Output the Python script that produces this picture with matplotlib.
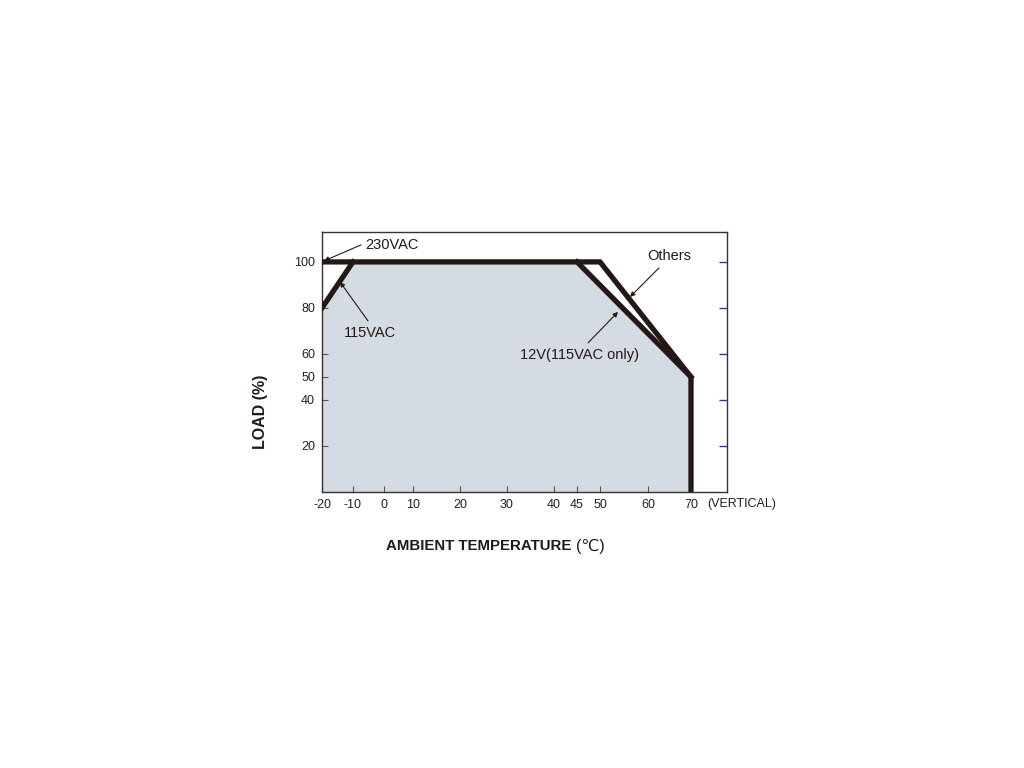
import numpy as np
import matplotlib
matplotlib.use("Agg")
import matplotlib.pyplot as plt

plt.rcParams['font.family'] = ['Liberation Sans', 'DejaVu Sans']

# derating curves (temperature in C, load in %)
others_t = [-20, 50, 70, 70]
others_load = [100, 100, 50, 0]
vac115_t = [-20, -10]
vac115_load = [80, 100]
v12_t = [45, 70]
v12_load = [100, 50]
# shaded area (lowest curve)
fill_t = [-20, -10, 45, 70, 70]
fill_load = [80, 100, 100, 50, 0]

xticks = [-20, -10, 0, 10, 20, 30, 40, 45, 50, 60, 70]
yticks = [20, 40, 50, 60, 80, 100]
right_ticks = [20, 40, 60, 80, 100]

# the x axis of the original is not uniformly spaced
knot_t = np.array([-20, -10, 0, 10, 20, 30, 40, 50, 60, 70, 80])
knot_p = np.array([322, 353, 384, 413, 460, 507, 554, 600, 648, 691, 734], dtype=float)

def fwd(x):
    return np.interp(x, knot_t, knot_p)

def inv(p):
    return np.interp(p, knot_p, knot_t)

def px(x, y):
    # pixel position of the original picture -> data coords
    return (float(inv(x)), (492 - y) / 2.3)

ink = '#231815'

fig = plt.figure(figsize=(10.24, 7.68), dpi=100)
ax = fig.add_axes([322/1024, 1-492/768, (727-322)/1024, (492-232)/768])
ax.set_xscale('function', functions=(fwd, inv))
ax.set_xlim(-20, inv(727))
ax.set_ylim(0, 113)

ax.fill_between(fill_t, fill_load, 0, color='#d5dbe3', lw=0, zorder=1)
ax.plot(others_t, others_load, color=ink, lw=3.8, solid_joinstyle='miter', zorder=3)
ax.plot(vac115_t, vac115_load, color=ink, lw=3.8, zorder=3)
ax.plot(v12_t, v12_load, color=ink, lw=3.8, zorder=3)

for s in ax.spines.values():
    s.set_color('#333333')
    s.set_linewidth(1.0)

ax.set_xticks(xticks)
ax.set_xticklabels([str(t) for t in xticks], fontsize=9, color='#222222')
ax.set_yticks(yticks)
ax.set_yticklabels([str(t) for t in yticks], fontsize=9, color='#222222')
ax.tick_params(direction='in', length=4, width=0.8, color='#555555', pad=5)
ax.minorticks_off()

ax2 = ax.twinx()
ax2.set_ylim(ax.get_ylim())
ax2.set_yticks(right_ticks)
ax2.set_yticklabels([])
ax2.tick_params(direction='in', length=6, width=1.0, color='#3333aa')
for s in ax2.spines.values():
    s.set_visible(False)

arrow = dict(arrowstyle='-|>', color=ink, lw=0.8, mutation_scale=7, shrinkA=0, shrinkB=0)

ax.text(*px(365, 245), '230VAC', fontsize=10.5, ha='left', va='center', color=ink)
ax.annotate('', xy=px(324, 261), xytext=px(361, 245), arrowprops=arrow)
ax.text(*px(370, 333), '115VAC', fontsize=10.5, ha='center', va='center', color=ink)
ax.annotate('', xy=px(340, 282), xytext=px(368, 321), arrowprops=arrow)
ax.text(*px(669, 256), 'Others', fontsize=10.5, ha='center', va='center', color=ink)
ax.annotate('', xy=px(630, 297), xytext=px(659, 268), arrowprops=arrow)
ax.text(*px(580, 355), '12V(115VAC only)', fontsize=10.5, ha='center', va='center', color=ink)
ax.annotate('', xy=px(618, 312), xytext=px(588, 343), arrowprops=arrow)

ax.text(inv(707), -5, '(VERTICAL)', fontsize=9, color='#222222', ha='left', va='center')

fig.text(261/1024, 1-412/768, 'LOAD (%)', rotation=90, fontsize=11.5, fontweight='bold',
         ha='center', va='center', color=ink)
fig.text(571/1024, 1-546/768, 'AMBIENT TEMPERATURE', fontsize=10.8, fontweight='bold',
         ha='right', va='center', color=ink)
fig.text(576/1024, 1-546/768, '(\u2103)', fontsize=11.5, ha='left', va='center', color=ink)

fig.savefig('out.png', dpi=100)
